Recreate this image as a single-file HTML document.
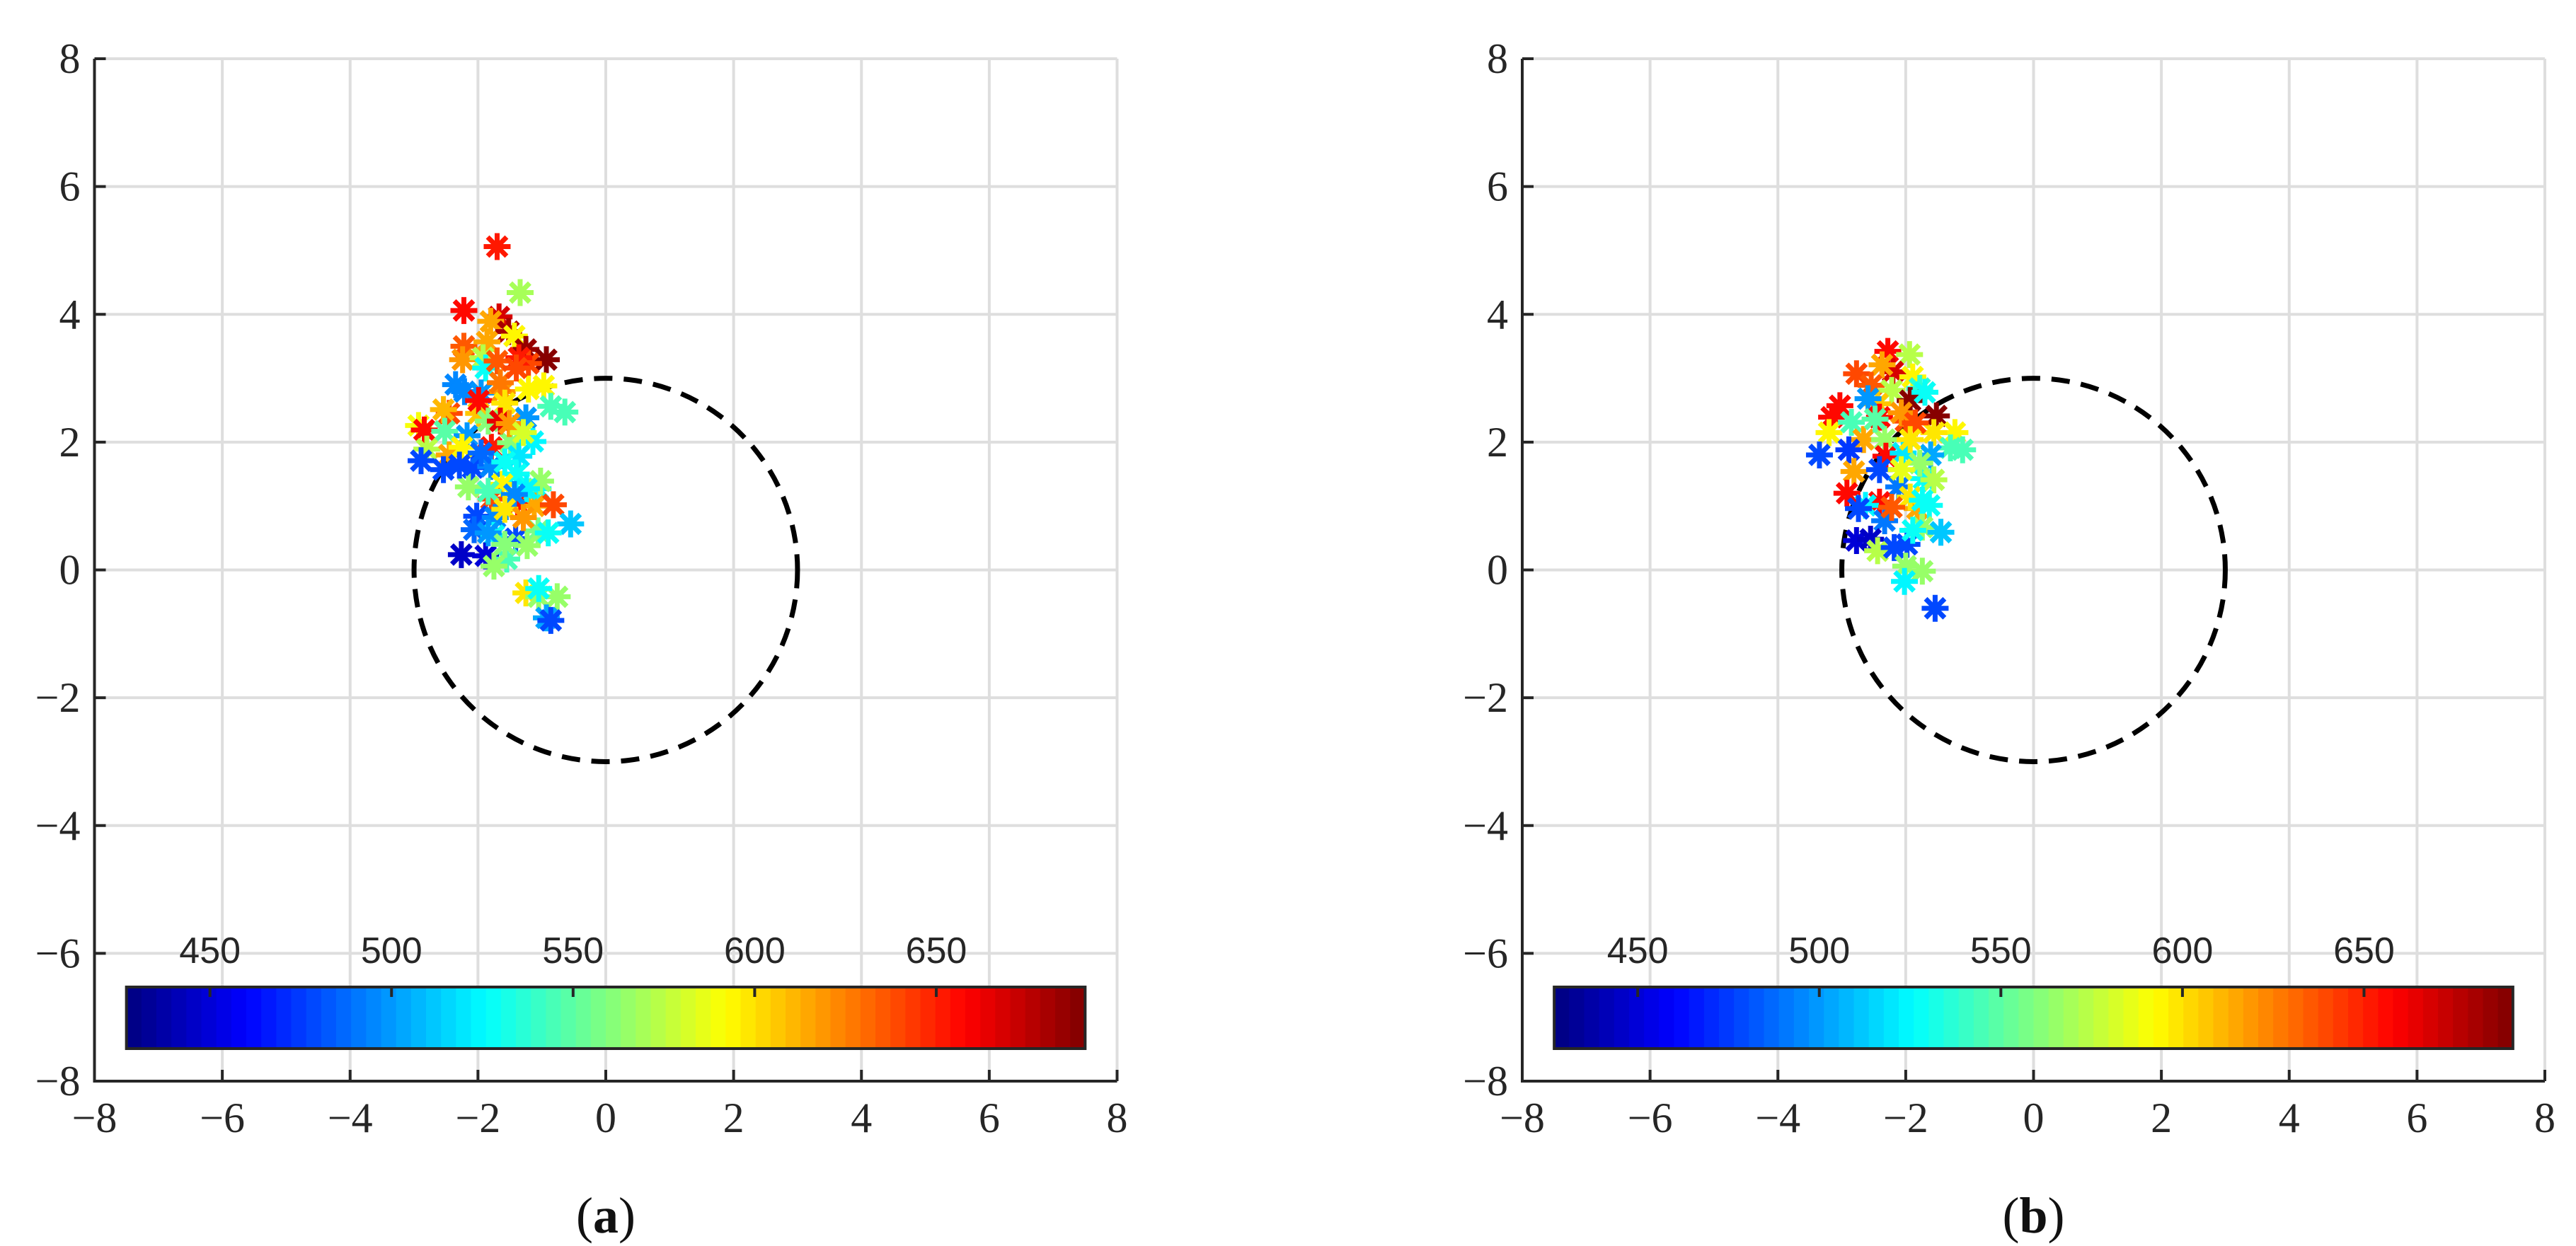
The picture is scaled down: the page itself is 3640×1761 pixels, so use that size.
<!DOCTYPE html>
<html><head><meta charset="utf-8"><style>
html,body{margin:0;padding:0;background:#fff;}
svg{display:block;}
.tk{font-family:"Liberation Serif",serif;font-size:60px;fill:#262626;}
.cb{font-family:"Liberation Sans",sans-serif;font-size:52px;fill:#262626;}
.cap{font-family:"Liberation Serif",serif;font-size:72px;fill:#111;}
</style></head><body>
<svg id="fig" width="3640" height="1761" viewBox="0 0 3640 1761" xmlns="http://www.w3.org/2000/svg"></svg>
<script>
// ---- data ----
const xTicks = [-8,-6,-4,-2,0,2,4,6,8];
const yTicks = [-8,-6,-4,-2,0,2,4,6,8];
const cbTicks = [450,500,550,600,650];
const cbMin = 427, cbMax = 691;
const circleRadius = 3;
const captions = ["a","b"];
const aX = [-1.70,-1.34,-2.22,-1.67,-1.80,-1.52,-1.43,-1.25,-0.93,-2.22,-2.24,-1.86,-1.92,-1.88,-1.21,-1.36,-1.70,-2.35,-2.21,-1.95,-1.62,-1.21,-0.97,-0.86,-0.64,-2.45,-2.54,-1.99,-1.25,-2.93,-2.84,-2.52,-2.17,-1.79,-1.49,-1.14,-2.80,-2.45,-2.89,-2.54,-2.08,-1.80,-1.36,-1.40,-2.15,-1.62,-1.06,-1.02,-1.79,-1.38,-1.12,-0.82,-2.02,-1.73,-0.55,-2.06,-1.75,-1.41,-1.06,-1.23,-2.26,-1.88,-1.55,-1.75,-1.25,-1.05,-0.76,-1.05,-0.93,-0.86,-1.65,-1.40,-1.99,-1.58,-1.84,-1.65,-1.51,-1.29,-2.25,-1.95,-1.58,-2.29,-1.24,-1.84,-1.43,-1.58,-1.29,-1.84,-1.58,-0.90];
const aY = [5.06,4.34,4.06,3.96,3.89,3.73,3.66,3.45,3.29,3.50,3.29,3.57,3.32,3.16,3.23,3.32,3.27,2.90,2.79,2.77,2.79,2.83,2.88,2.56,2.47,2.45,2.51,2.45,2.38,2.26,2.19,2.17,2.10,1.92,1.99,2.01,1.89,1.80,1.71,1.57,1.60,1.62,1.78,1.50,1.30,1.34,1.27,1.39,1.11,1.04,1.00,1.02,0.84,0.82,0.72,0.63,0.54,0.49,0.61,0.38,0.24,0.22,0.17,0.06,-0.36,-0.42,-0.42,-0.29,-0.75,-0.79,2.93,3.16,2.65,2.61,2.33,2.33,2.29,2.15,1.92,1.83,1.69,1.64,1.27,1.23,1.18,0.95,0.82,0.58,0.40,0.58];
const aL = [650,570,655,670,615,680,595,685,690,635,620,615,575,530,640,650,635,495,495,500,620,595,592,545,545,640,610,605,500,590,655,550,500,650,560,525,575,615,480,478,478,495,520,530,565,595,530,565,640,655,615,640,478,495,510,485,530,478,555,565,445,448,545,565,600,565,565,530,505,480,625,640,655,600,560,665,620,580,595,485,530,480,525,545,495,598,620,500,560,530];
const bX = [-2.28,-1.94,-2.77,-2.20,-2.37,-2.54,-1.89,-1.78,-2.22,-1.93,-1.52,-3.03,-3.16,-2.44,-2.59,-2.41,-2.00,-3.20,-1.23,-2.85,-2.66,-2.33,-1.56,-1.11,-1.30,-3.35,-2.89,-2.31,-2.04,-1.61,-2.81,-2.41,-1.72,-2.11,-2.92,-2.41,-2.63,-1.82,-1.63,-2.33,-2.74,-1.74,-1.45,-2.77,-2.55,-1.98,-2.44,-2.18,-2.00,-1.74,-2.02,-1.54,-2.07,-1.85,-2.48,-1.93,-1.78,-2.07,-1.93,-1.56,-2.22,-1.74,-1.89,-1.70];
const bY = [3.42,3.37,3.07,3.10,3.21,2.89,3.02,2.84,2.81,2.65,2.41,2.57,2.39,2.60,2.68,2.39,2.33,2.15,2.15,2.31,2.04,2.04,2.15,1.88,1.91,1.80,1.88,1.78,1.83,1.80,1.54,1.57,1.43,1.30,1.20,1.06,1.01,0.96,1.01,0.77,0.96,0.67,0.59,0.46,0.48,0.40,0.30,0.35,0.06,-0.02,-0.18,-0.60,2.46,2.30,2.36,2.04,1.67,1.57,1.14,1.41,0.98,1.09,0.62,2.78];
const bL = [655,575,640,670,615,635,595,535,575,690,690,655,655,605,500,655,640,595,595,545,615,565,598,545,545,478,475,655,520,505,615,478,530,492,655,655,525,615,530,490,478,565,510,448,445,478,575,480,565,565,525,480,620,640,548,600,565,585,598,575,635,530,530,530];

const NS="http://www.w3.org/2000/svg";
const svg=document.getElementById('fig');
function mk(tag,attrs,parent){const e=document.createElementNS(NS,tag);for(const k in attrs)e.setAttribute(k,attrs[k]);(parent||svg).appendChild(e);return e;}
function jet(t){t=Math.max(0,Math.min(1,t));const c=v=>Math.round(255*Math.max(0,Math.min(1,v)));
  return `rgb(${c(1.5-Math.abs(4*t-3))},${c(1.5-Math.abs(4*t-2))},${c(1.5-Math.abs(4*t-1))})`;}
function jet64(v){let t=(v-cbMin)/(cbMax-cbMin);let i=Math.min(63,Math.max(0,Math.floor(t*64)));return jet((i+0.5)/64);}
const fmt=v=>v<0?'\u2212'+Math.abs(v):String(v);

function panel(left,X,Y,L,cap){
  const top=83,size=1445,unit=size/16;
  const sx=v=>left+(v+8)*unit, sy=v=>top+(8-v)*unit;
  const g=mk('g',{});
  
  
  const grid=mk('g',{},g);
  
  
  xTicks.forEach(v=>{mk('line',{x1:sx(v),x2:sx(v),y1:sy(-8),y2:sy(8),stroke:'#dedede','stroke-width':4},grid);});
  yTicks.forEach(v=>{mk('line',{x1:sx(-8),x2:sx(8),y1:sy(v),y2:sy(v),stroke:'#dedede','stroke-width':4},grid);});
  const c=mk('circle',{cx:sx(0),cy:sy(0),r:circleRadius*unit,fill:'none',stroke:'#000','stroke-width':7,'stroke-dasharray':'26 16'},g);
  
  
  const mg=mk('g',{},g);
  
  
  for(let i=0;i<X.length;i++){
    const px=sx(X[i]),py=sy(Y[i]),r=19,col=jet64(L[i]);
    const m=mk('g',{stroke:col,'stroke-width':7},mg);
    
    
    const d=r*0.7071;
    mk('line',{x1:px-r,y1:py,x2:px+r,y2:py},m);
    mk('line',{x1:px,y1:py-r,x2:px,y2:py+r},m);
    mk('line',{x1:px-d,y1:py-d,x2:px+d,y2:py+d},m);
    mk('line',{x1:px-d,y1:py+d,x2:px+d,y2:py-d},m);
  }
  const cb=mk('g',{},g);
  
  
  const cx0=sx(-7.5),cx1=sx(7.5),cyT=1395,cyB=1482,w=(cx1-cx0)/64;
  for(let i=0;i<64;i++){mk('rect',{x:cx0+i*w,y:cyT,width:w+0.6,height:cyB-cyT,fill:jet((i+0.5)/64)},cb);}
  mk('rect',{x:cx0,y:cyT,width:cx1-cx0,height:cyB-cyT,fill:'none',stroke:'#262626','stroke-width':4},cb);
  cbTicks.forEach(v=>{const x=cx0+(v-cbMin)/(cbMax-cbMin)*(cx1-cx0);
    mk('line',{x1:x,x2:x,y1:cyT,y2:cyT+14,stroke:'#262626','stroke-width':4},cb);
    const t=mk('text',{x:x,y:1361,'text-anchor':'middle',class:'cb'},cb);t.textContent=v;
    
    });
  const ax=mk('g',{},g);
  
  
  mk('path',{d:`M${sx(-8)} ${sy(8)} V${sy(-8)} H${sx(8)}`,fill:'none',stroke:'#262626','stroke-width':4},ax);
  xTicks.forEach(v=>{mk('line',{x1:sx(v),x2:sx(v),y1:sy(-8),y2:sy(-8)-16,stroke:'#262626','stroke-width':4},ax);
    const t=mk('text',{x:sx(v),y:1600,'text-anchor':'middle',class:'tk'},ax);t.textContent=fmt(v);
    
    });
  yTicks.forEach(v=>{mk('line',{x1:sx(-8),x2:sx(-8)+16,y1:sy(v),y2:sy(v),stroke:'#262626','stroke-width':4},ax);
    const t=mk('text',{x:sx(-8)-20,y:sy(v)+20,'text-anchor':'end',class:'tk'},ax);t.textContent=fmt(v);
    
    });
  const ct=mk('text',{x:sx(0),y:1742,'text-anchor':'middle',class:'cap'},g);
  ct.innerHTML='(<tspan font-weight="bold">'+cap+'</tspan>)';
  
  
}
panel(133.5,aX,aY,aL,captions[0]);
panel(2151,bX,bY,bL,captions[1]);
</script>
</body></html>
